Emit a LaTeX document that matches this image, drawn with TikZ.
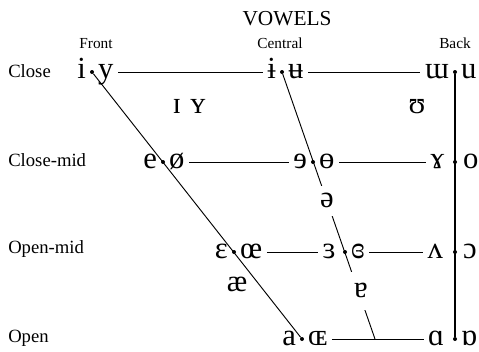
\documentclass[tikz,border=0pt]{standalone}
\usepackage{fontspec}
\setmainfont{Liberation Serif}
\usetikzlibrary{positioning}
\tikzset{
  vowel/.style   ={font=\fontsize{23}{23}\selectfont, inner sep=1.2pt,
                   text height=10pt, text depth=0pt},
  midvowel/.style={vowel, fill=white, inner xsep=3pt, inner ysep=6pt},
  vdot/.style    ={circle, fill, inner sep=0pt, minimum size=3pt},
  rowlabel/.style={font=\fontsize{14}{14}\selectfont, anchor=base west,
                   inner sep=0pt},
  collabel/.style={font=\fontsize{11.5}{12}\selectfont, anchor=base,
                   inner sep=0pt},
  headlabel/.style={font=\fontsize{16}{16}\selectfont, anchor=base,
                   inner sep=0pt},
  vline/.style   ={line width=0.7pt},
  hline/.style   ={vline, shorten <=2pt, shorten >=2pt},
}

\begin{document}
\begin{tikzpicture}[x=0.75pt,y=-0.75pt,node distance=1.5pt]
  \useasboundingbox (0,0) rectangle (479,351);
  % headings
  \node[headlabel] (title) at (287,25) {VOWELS};
  \node[collabel] (front) at (96,48) {Front};
  \node[collabel] (central) at (280,48) {Central};
  \node[collabel] (back) at (455,48) {Back};
  \node[rowlabel] (close) at (8,77) {Close};
  \node[rowlabel] (closemid) at (8,166) {Close-mid};
  \node[rowlabel] (openmid) at (8,253) {Open-mid};
  \node[rowlabel] (open) at (8,342) {Open};
  % dots
  \node[vdot] (fc) at (92,72) {};
  \node[vdot] (cc) at (282,72) {};
  \node[vdot] (bc) at (455,72) {};
  \node[vdot] (fcm) at (163,162) {};
  \node[vdot] (ccm) at (313,162) {};
  \node[vdot] (bcm) at (455,162) {};
  \node[vdot] (fom) at (234,252) {};
  \node[vdot] (com) at (345,252) {};
  \node[vdot] (bom) at (455,252) {};
  \node[vdot] (fo) at (302,339) {};
  \node[vdot] (bo) at (455,339) {};
  \coordinate (jn) at (375,339);
  % vowel pairs
  \node[vowel, left=of fc] (i) {i};
  \node[vowel, right=of fc] (y) {y};
  \node[vowel, left=of cc] (ibar) {ɨ};
  \node[vowel, right=of cc] (ubar) {ʉ};
  \node[vowel, left=of bc] (turnm) {ɯ};
  \node[vowel, right=of bc] (u) {u};
  \node[vowel, left=of fcm] (e) {e};
  \node[vowel, right=of fcm] (oslash) {ø};
  \node[vowel, left=of ccm] (reve) {ɘ};
  \node[vowel, right=of ccm] (baro) {ɵ};
  \node[vowel, left=5pt of bcm] (ramshorn) {ɤ};
  \node[vowel, right=3pt of bcm] (o) {o};
  \node[vowel, left=of fom] (eps) {ɛ};
  \node[vowel, right=of fom] (oe) {œ};
  \node[vowel, left=4pt of com] (reveps) {ɜ};
  \node[vowel, right=of com] (closedeps) {ɞ};
  \node[vowel, left=6pt of bom] (turnv) {ʌ};
  \node[vowel, right=3pt of bom] (openo) {ɔ};
  \node[vowel, left=of fo] (a) {a};
  \node[vowel, right=of fo] (smalloe) {ɶ};
  \node[vowel, left=5pt of bo] (alpha) {ɑ};
  \node[vowel, right=of bo] (turnalpha) {ɒ};
  % rows
  \draw[hline] (y) -- (ibar);
  \draw[hline] (ubar) -- (turnm);
  \draw[hline] (oslash) -- (reve);
  \draw[hline] (baro) -- (ramshorn);
  \draw[hline] (oe) -- (reveps);
  \draw[hline] (closedeps) -- (turnv);
  \draw[hline] (smalloe) -- (alpha);
  % columns
  \draw[vline] (fc) -- (fo);
  \draw[vline] (cc) -- (jn);
  \draw[vline, line width=1pt] (bc) -- (bo);
  % vowels off the grid
  \node[vowel] (smalli) at (177,107) {ɪ};
  \node[vowel, right=4pt of smalli] (smally) {ʏ};
  \node[vowel] (upsilon) at (417,107) {ʊ};
  \node[midvowel] (schwa) at (327,201) {ə};
  \node[midvowel, inner ysep=9pt] (turna) at (361,291) {ɐ};
  \node[vowel] (ae) at (237,285) {æ};
\end{tikzpicture}
\end{document}
